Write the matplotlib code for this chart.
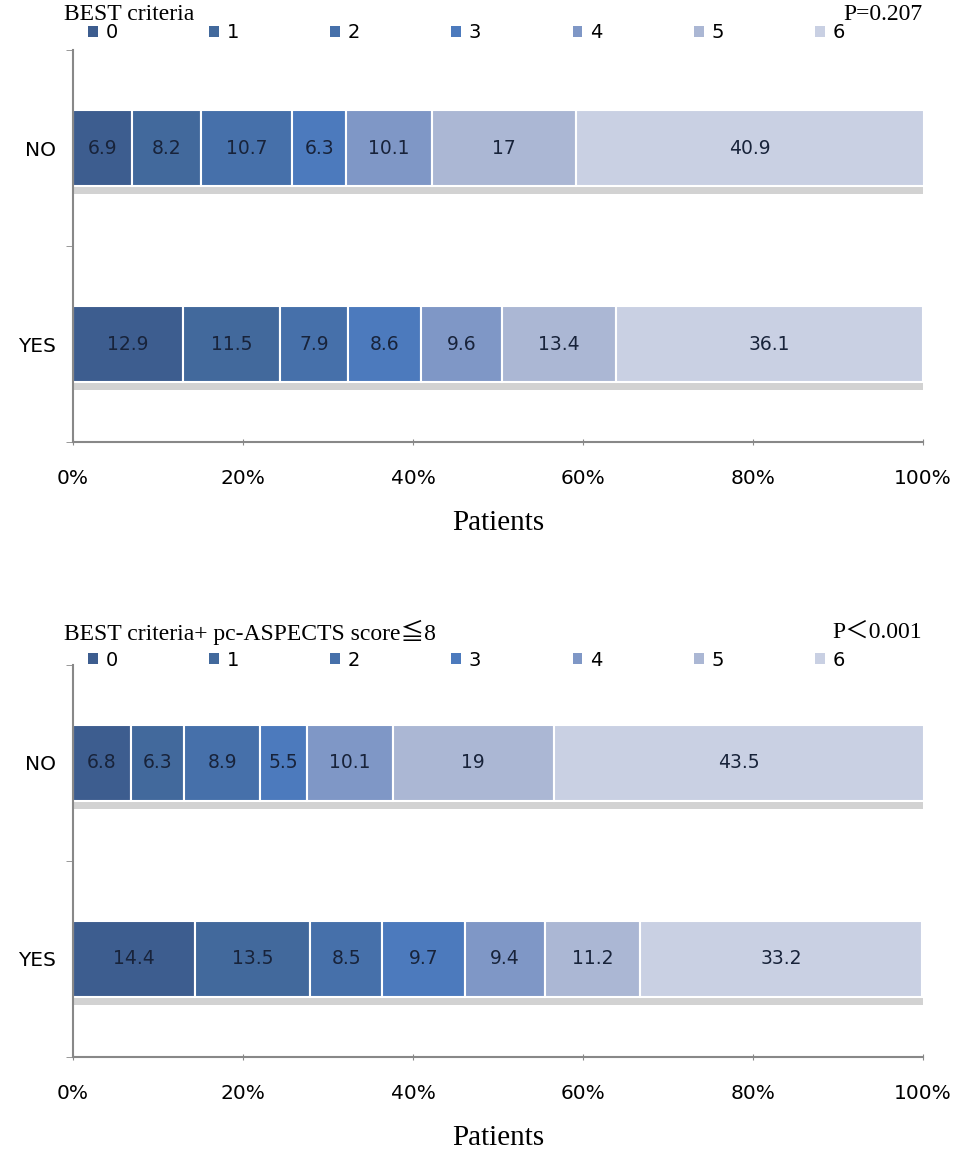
import matplotlib
matplotlib.use('Agg')
import matplotlib.pyplot as plt
from matplotlib.patches import Patch

groups = ['YES', 'NO']
scores = ['0', '1', '2', '3', '4', '5', '6']
best_no = [6.9, 8.2, 10.7, 6.3, 10.1, 17, 40.9]
best_yes = [12.9, 11.5, 7.9, 8.6, 9.6, 13.4, 36.1]
pc_no = [6.8, 6.3, 8.9, 5.5, 10.1, 19, 43.5]
pc_yes = [14.4, 13.5, 8.5, 9.7, 9.4, 11.2, 33.2]
colors = ['#3d5d8f', '#42699c', '#4670aa', '#4c7abd', '#7f97c6', '#abb7d4', '#c9d0e3']

serif = ['Liberation Serif', 'Noto Sans CJK SC', 'DejaVu Serif']

fig = plt.figure(figsize=(9.58, 11.57), dpi=100)


def draw(ax, yes, no):
    data = [yes, no]
    bh = 0.385
    for i, vals in enumerate(data):
        ax.barh(i - bh / 2 - 0.022, 100, height=0.044, color='#d2d2d2', zorder=1)
        left = 0
        for j, v in enumerate(vals):
            ax.barh(i, v, left=left, height=bh, color=colors[j],
                    edgecolor='white', linewidth=1.5, zorder=2)
            ax.text(left + v / 2, i, f'{v:g}', ha='center', va='center',
                    fontsize=13.5, color='#18233a', zorder=3)
            left += v
    ax.set_xlim(0, 100)
    ax.set_ylim(-0.5, 1.5)
    ax.set_yticks([0, 1])
    ax.set_yticklabels(groups, fontsize=14.5)
    ax.set_yticks([-0.5, 0.5, 1.5], minor=True)
    ax.tick_params(axis='y', which='major', length=0, pad=12)
    ax.tick_params(axis='y', which='minor', length=5, color='#888888')
    ax.set_xticks(range(0, 101, 20))
    ax.set_xticklabels([f'{t}%' for t in range(0, 101, 20)], fontsize=14.5)
    ax.tick_params(axis='x', length=5, color='#888888', pad=17, direction='inout')
    for s in ['top', 'right']:
        ax.spines[s].set_visible(False)
    for s in ['left', 'bottom']:
        ax.spines[s].set_color('#888888')
        ax.spines[s].set_linewidth(1.5)
    ax.set_xlabel('Patients', family=serif, fontsize=21, labelpad=16)


ax1 = fig.add_axes([73 / 958, 1 - 442 / 1157, 850 / 958, 392 / 1157])
draw(ax1, best_yes, best_no)
ax2 = fig.add_axes([73 / 958, 1 - 1057 / 1157, 850 / 958, 392 / 1157])
draw(ax2, pc_yes, pc_no)

handles = [Patch(facecolor=c) for c in colors]
for y in [1 - 33 / 1157, 1 - 660 / 1157]:
    fig.legend(handles, scores, loc='center left', bbox_to_anchor=(80 / 958, y),
               ncol=7, frameon=False, fontsize=14, handlelength=0.5,
               handleheight=0.5, handletextpad=0.4, columnspacing=4.7,
               borderaxespad=0)

fig.text(64 / 958, 1 - 15 / 1157, 'BEST criteria', family=serif, fontsize=17,
         va='center', ha='left')
fig.text(922 / 958, 1 - 15 / 1157, 'P=0.207', family=serif, fontsize=17,
         va='center', ha='right')
fig.text(64 / 958, 1 - 632 / 1157, 'BEST criteria+ pc-ASPECTS score≦8', family=serif,
         fontsize=17, va='center', ha='left')
fig.text(922 / 958, 1 - 632 / 1157, 'P＜0.001', family=serif, fontsize=17,
         va='center', ha='right')

fig.savefig('out.png', dpi=100)
